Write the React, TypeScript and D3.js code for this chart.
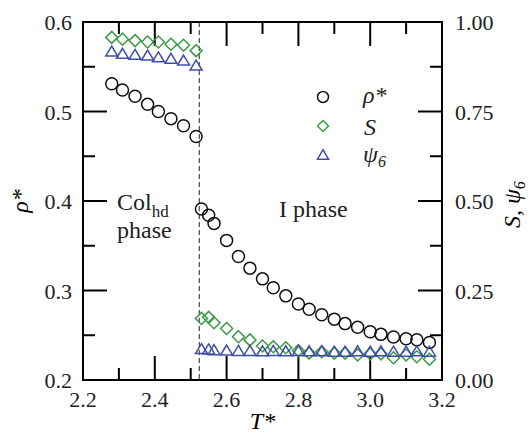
import React from 'react';
import * as d3 from 'd3';

// reduced temperature, ordered (Col_hd) branch and isotropic branch
const tCol = [2.28, 2.31, 2.345, 2.38, 2.41, 2.445, 2.48, 2.515];
const rhoCol = [0.531, 0.524, 0.517, 0.508, 0.500, 0.492, 0.484, 0.472];
const sCol = [0.957, 0.952, 0.948, 0.944, 0.944, 0.938, 0.935, 0.920];
const psiCol = [0.914, 0.908, 0.905, 0.903, 0.898, 0.894, 0.889, 0.875];

const tIso = [2.53, 2.55, 2.565, 2.60, 2.633, 2.665, 2.70, 2.73, 2.765, 2.80, 2.83,
  2.865, 2.90, 2.93, 2.965, 3.00, 3.03, 3.065, 3.10, 3.13, 3.165];
const rhoIso = [0.391, 0.384, 0.375, 0.356, 0.338, 0.325, 0.313, 0.303, 0.294, 0.285, 0.279,
  0.273, 0.268, 0.263, 0.259, 0.254, 0.251, 0.248, 0.246, 0.245, 0.242];
const sIso = [0.172, 0.175, 0.160, 0.144, 0.121, 0.112, 0.095, 0.093, 0.090, 0.082, 0.075,
  0.079, 0.075, 0.075, 0.070, 0.073, 0.073, 0.062, 0.070, 0.065, 0.058];
const psiIso = [0.083, 0.082, 0.080, 0.079, 0.078, 0.078, 0.077, 0.078, 0.077, 0.078, 0.077,
  0.077, 0.076, 0.076, 0.077, 0.076, 0.077, 0.076, 0.076, 0.077, 0.076];

const tTransition = 2.524;

const xTicks = [2.2, 2.4, 2.6, 2.8, 3.0, 3.2];
const xMinor = [2.3, 2.5, 2.7, 2.9, 3.1];
const yLeftTicks = [0.2, 0.3, 0.4, 0.5, 0.6];
const yLeftMinor = [0.25, 0.35, 0.45, 0.55];
const yRightTicks = [0, 0.25, 0.5, 0.75, 1];
const yRightMinor = [0.125, 0.375, 0.625, 0.875];

const GREEN = '#3b9b45';
const BLUE = '#3f4fa6';
const FONT = "'Liberation Serif', 'DejaVu Serif', 'Times New Roman', serif";

const margin = { left: 83, right: 90, top: 22, bottom: 55 };
const width = 532;
const height = 435;

const diamond = (s: number) => `M0,${-s}L${s},0L0,${s}L${-s},0Z`;
const triangle = (w: number, h: number) =>
  `M0,${(-2 * h) / 3}L${w / 2},${h / 3}L${-w / 2},${h / 3}Z`;

const App = () => {
  const x = d3.scaleLinear().domain([2.2, 3.2]).range([margin.left, width - margin.right]);
  const yL = d3.scaleLinear().domain([0.2, 0.6]).range([height - margin.bottom, margin.top]);
  const yR = d3.scaleLinear().domain([0, 1]).range([height - margin.bottom, margin.top]);

  const x0 = x.range()[0];
  const x1 = x.range()[1];
  const yb = yL.range()[0];
  const yt = yL.range()[1];
  const major = 24;
  const minor = 12;

  const temps = tCol.concat(tIso);
  const rho = rhoCol.concat(rhoIso);
  const S = sCol.concat(sIso);
  const psi = psiCol.concat(psiIso);

  return (
    <svg width={width} height={height}
      style={{ position: 'absolute', left: 0, top: 0, fontFamily: FONT }}>
      <rect width={width} height={height} fill="#fff" />

      {/* ticks */}
      <g stroke="#000" strokeWidth={2}>
        {xTicks.slice(1, -1).map(t => (
          <g key={'xm' + t}>
            <line x1={x(t)} x2={x(t)} y1={yb} y2={yb - major} />
            <line x1={x(t)} x2={x(t)} y1={yt} y2={yt + major} />
          </g>
        ))}
        {xMinor.map(t => (
          <g key={'xn' + t}>
            <line x1={x(t)} x2={x(t)} y1={yb} y2={yb - minor} />
            <line x1={x(t)} x2={x(t)} y1={yt} y2={yt + minor} />
          </g>
        ))}
        {yLeftTicks.slice(1, -1).map(v => (
          <line key={'yl' + v} x1={x0} x2={x0 + major} y1={yL(v)} y2={yL(v)} />
        ))}
        {yLeftMinor.map(v => (
          <line key={'yln' + v} x1={x0} x2={x0 + minor} y1={yL(v)} y2={yL(v)} />
        ))}
        {yRightTicks.slice(1, -1).map(v => (
          <line key={'yr' + v} x1={x1} x2={x1 - major} y1={yR(v)} y2={yR(v)} />
        ))}
        {yRightMinor.map(v => (
          <line key={'yrn' + v} x1={x1} x2={x1 - minor} y1={yR(v)} y2={yR(v)} />
        ))}
      </g>

      {/* transition line */}
      <line x1={x(tTransition)} x2={x(tTransition)} y1={yt} y2={yb}
        stroke="#555" strokeWidth={1.3} strokeDasharray="5,3" />

      {/* frame */}
      <rect x={x0} y={yt} width={x1 - x0} height={yb - yt} fill="none" stroke="#000" strokeWidth={2} />

      {/* tick labels */}
      <g fontSize={22} fill="#222">
        {xTicks.map(t => (
          <text key={'xl' + t} x={x(t)} y={yb + 27} textAnchor="middle">{t.toFixed(1)}</text>
        ))}
        {yLeftTicks.map(v => (
          <text key={'yll' + v} x={x0 - 11} y={yL(v) + 8} textAnchor="end">{v.toFixed(1)}</text>
        ))}
        {yRightTicks.map(v => (
          <text key={'yrl' + v} x={x1 + 13} y={yR(v) + 8} textAnchor="start">{v.toFixed(2)}</text>
        ))}
      </g>

      {/* axis titles */}
      <text x={(x0 + x1) / 2} y={height - 6} textAnchor="middle" fontSize={24} fontStyle="italic">T*</text>
      <text transform={`translate(28,${yL(0.4)}) rotate(-90)`} textAnchor="middle" fontSize={24}
        fontStyle="italic">ρ*</text>
      <text transform={`translate(520,${yR(0.49)}) rotate(-90)`} textAnchor="middle" fontSize={24}
        fontStyle="italic">S, ψ<tspan fontSize={16} dy={5}>6</tspan></text>

      {/* phase labels */}
      <g fontSize={24} fill="#222">
        <text x={117} y={210}>Col<tspan fontSize={17} dy={7}>hd</tspan></text>
        <text x={117} y={238}>phase</text>
        <text x={279} y={217}>I phase</text>
      </g>

      {/* data */}
      <g fill="none" strokeWidth={1.5}>
        {temps.map((t, i) => (
          <circle key={'r' + i} cx={x(t)} cy={yL(rho[i])} r={6} stroke="#111" />
        ))}
        {temps.map((t, i) => (
          <path key={'s' + i} transform={`translate(${x(t)},${yR(S[i])})`} d={diamond(6)} stroke={GREEN} />
        ))}
        {temps.map((t, i) => (
          <path key={'p' + i} transform={`translate(${x(t)},${yR(psi[i])})`} d={triangle(12, 10)} stroke={BLUE} />
        ))}
      </g>

      {/* legend */}
      <g fill="none" strokeWidth={1.5}>
        <circle cx={323} cy={97} r={5.5} stroke="#111" />
        <path transform="translate(323,126)" d={diamond(5.5)} stroke={GREEN} />
        <path transform="translate(323,156)" d={triangle(11, 9.5)} stroke={BLUE} />
      </g>
      <g fontSize={24} fontStyle="italic" fill="#222">
        <text x={363} y={103}>ρ*</text>
        <text x={364} y={135}>S</text>
        <text x={363} y={162}>ψ<tspan fontSize={16} dy={5}>6</tspan></text>
      </g>
    </svg>
  );
};

export default App;
